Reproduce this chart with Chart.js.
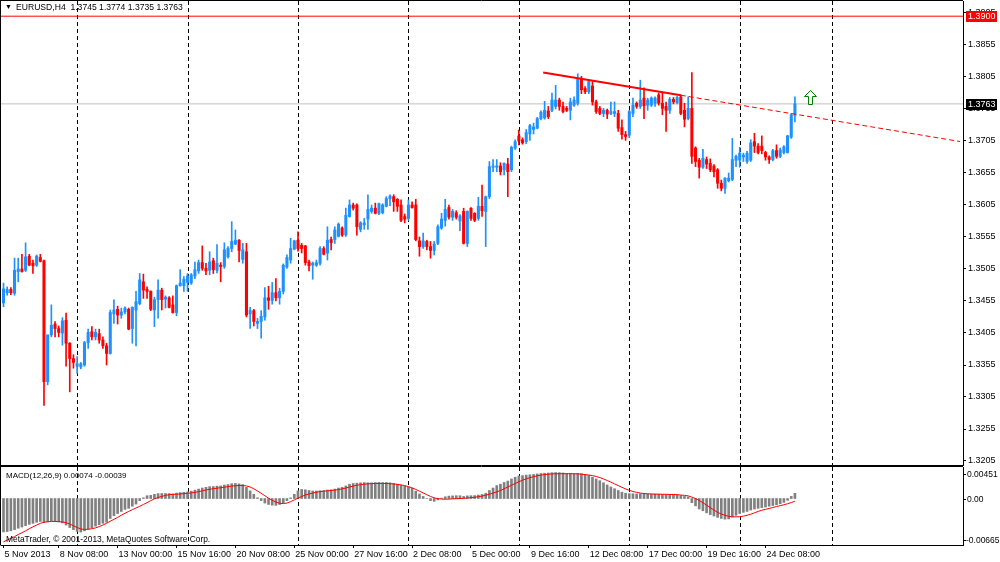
<!DOCTYPE html>
<html>
<head>
<meta charset="utf-8">
<title>EURUSD,H4</title>
<script src="https://cdn.jsdelivr.net/npm/chart.js@4.4.1/dist/chart.umd.min.js"></script>
<style>
html,body{margin:0;padding:0;background:#fff;overflow:hidden;}
#wrap{position:relative;width:1000px;height:562px;background:#fff;}
canvas{position:absolute;left:0;display:block;}
#c1{top:0;}
#c2{top:466px;}
.t{position:absolute;font-family:"Liberation Sans",Arial,sans-serif;color:#000;white-space:pre;line-height:1;}
</style>
</head>
<body>
<div id="wrap">
  <canvas id="c1" width="1000" height="466" style="width:1000px;height:466px"></canvas>
  <canvas id="c2" width="1000" height="96" style="width:1000px;height:96px"></canvas>
  <div class="t" style="left:5px;top:3px;font-size:7px;">▼</div>
  <div class="t" id="hdr" style="left:16px;top:2.5px;font-size:8.6px;"></div>
  <div class="t" id="macdLbl" style="left:6px;top:471.5px;font-size:8px;"></div>
  <div class="t" style="left:6px;top:534.5px;font-size:8.4px;">MetaTrader, © 2001-2013, MetaQuotes Software Corp.</div>
</div>
<script>
// ---------------- DATA ----------------
const symbolName = "EURUSD,H4";
const opens = [
1.3452,1.3468,1.3473,1.3467,1.3501,1.3505,1.3503,1.3525,1.3514,1.3511,
1.3523,1.3518,1.3329,1.3402,1.3419,1.3412,1.3405,1.3425,1.3389,1.3365,
1.3353,1.3352,1.3355,1.3390,1.3407,1.3399,1.3404,1.3394,1.3385,1.3373,
1.3435,1.3442,1.3433,1.3438,1.3442,1.3412,1.3441,1.3451,1.3485,1.3473,
1.3470,1.3441,1.3457,1.3472,1.3458,1.3460,1.3449,1.3437,1.3479,1.3479,
1.3484,1.3483,1.3494,1.3502,1.3515,1.3506,1.3503,1.3518,1.3503,1.3511,
1.3509,1.3524,1.3537,1.3544,1.3550,1.3520,1.3532,1.3435,1.3440,1.3420,
1.3423,1.3430,1.3460,1.3456,1.3468,1.3460,1.3470,1.3508,1.3519,1.3536,
1.3550,1.3542,1.3541,1.3516,1.3511,1.3511,1.3514,1.3537,1.3530,1.3551,
1.3551,1.3556,1.3569,1.3558,1.3587,1.3605,1.3605,1.3567,1.3574,1.3583,
1.3595,1.3600,1.3592,1.3593,1.3603,1.3615,1.3618,1.3614,1.3605,1.3587,
1.3584,1.3605,1.3605,1.3549,1.3540,1.3548,1.3540,1.3534,1.3545,1.3569,
1.3581,1.3601,1.3586,1.3593,1.3580,1.3595,1.3545,1.3600,1.3592,1.3584,
1.3603,1.3595,1.3618,1.3664,1.3664,1.3666,1.3660,1.3669,1.3660,1.3694,
1.3713,1.3707,1.3704,1.3716,1.3723,1.3725,1.3740,1.3741,1.3752,1.3753,
1.3759,1.3769,1.3759,1.3756,1.3753,1.3761,1.3764,1.3803,1.3787,1.3782,
1.3791,1.3766,1.3756,1.3748,1.3753,1.3748,1.3748,1.3748,1.3726,1.3715,
1.3714,1.3748,1.3764,1.3759,1.3772,1.3761,1.3761,1.3764,1.3777,1.3764,
1.3759,1.3753,1.3770,1.3765,1.3774,1.3753,1.3740,1.3756,1.3694,1.3675,
1.3664,1.3676,1.3670,1.3666,1.3660,1.3639,1.3631,1.3643,1.3645,1.3675,
1.3675,1.3680,1.3673,1.3675,1.3704,1.3697,1.3697,1.3687,1.3680,1.3676,
1.3690,1.3681,1.3687,1.3687,1.3711,1.3745];
const highs = [
1.3483,1.3477,1.3476,1.3522,1.3522,1.3528,1.3546,1.3528,1.3519,1.3527,
1.3528,1.3519,1.3402,1.3449,1.3423,1.3416,1.3429,1.3436,1.3390,1.3371,
1.3368,1.3359,1.3392,1.3411,1.3415,1.3411,1.3411,1.3399,1.3389,1.3441,
1.3457,1.3447,1.3444,1.3446,1.3444,1.3446,1.3470,1.3498,1.3497,1.3477,
1.3471,1.3461,1.3488,1.3475,1.3463,1.3462,1.3463,1.3480,1.3504,1.3493,
1.3498,1.3498,1.3516,1.3519,1.3541,1.3514,1.3532,1.3522,1.3543,1.3515,
1.3546,1.3540,1.3579,1.3566,1.3551,1.3545,1.3545,1.3445,1.3442,1.3428,
1.3440,1.3476,1.3478,1.3484,1.3490,1.3475,1.3513,1.3527,1.3553,1.3550,
1.3563,1.3545,1.3542,1.3519,1.3516,1.3519,1.3540,1.3540,1.3571,1.3555,
1.3571,1.3577,1.3571,1.3600,1.3613,1.3608,1.3607,1.3579,1.3584,1.3621,
1.3605,1.3608,1.3608,1.3607,1.3618,1.3621,1.3621,1.3615,1.3613,1.3591,
1.3613,1.3610,1.3614,1.3555,1.3561,1.3550,1.3548,1.3548,1.3574,1.3592,
1.3614,1.3605,1.3598,1.3596,1.3590,1.3600,1.3596,1.3601,1.3593,1.3617,
1.3636,1.3619,1.3673,1.3676,1.3676,1.3671,1.3671,1.3678,1.3697,1.3707,
1.3722,1.3710,1.3723,1.3731,1.3733,1.3742,1.3752,1.3767,1.3759,1.3780,
1.3792,1.3772,1.3766,1.3759,1.3772,1.3774,1.3810,1.3806,1.3790,1.3800,
1.3798,1.3769,1.3759,1.3756,1.3755,1.3766,1.3766,1.3753,1.3738,1.3720,
1.3753,1.3772,1.3766,1.3800,1.3788,1.3772,1.3774,1.3774,1.3780,1.3780,
1.3766,1.3773,1.3773,1.3775,1.3777,1.3764,1.3774,1.3812,1.3696,1.3678,
1.3692,1.3680,1.3677,1.3668,1.3662,1.3644,1.3648,1.3655,1.3709,1.3683,
1.3695,1.3686,1.3689,1.3707,1.3717,1.3701,1.3713,1.3689,1.3682,1.3692,
1.3699,1.3694,1.3698,1.3714,1.3748,1.3774];
const lows = [
1.3446,1.3464,1.3465,1.3464,1.3485,1.3500,1.3501,1.3510,1.3498,1.3509,
1.3516,1.3292,1.3324,1.3399,1.3399,1.3399,1.3386,1.3353,1.3313,1.3350,
1.3342,1.3349,1.3353,1.3381,1.3394,1.3394,1.3389,1.3381,1.3355,1.3372,
1.3420,1.3419,1.3428,1.3435,1.3410,1.3389,1.3385,1.3449,1.3459,1.3459,
1.3440,1.3415,1.3428,1.3441,1.3444,1.3444,1.3436,1.3432,1.3478,1.3470,
1.3470,1.3481,1.3490,1.3498,1.3503,1.3496,1.3496,1.3498,1.3499,1.3485,
1.3506,1.3522,1.3532,1.3543,1.3516,1.3514,1.3430,1.3412,1.3416,1.3412,
1.3397,1.3425,1.3442,1.3450,1.3455,1.3450,1.3466,1.3506,1.3514,1.3535,
1.3533,1.3530,1.3511,1.3502,1.3489,1.3509,1.3511,1.3527,1.3519,1.3535,
1.3545,1.3555,1.3556,1.3556,1.3586,1.3597,1.3558,1.3563,1.3567,1.3567,
1.3592,1.3591,1.3590,1.3591,1.3602,1.3604,1.3595,1.3595,1.3579,1.3577,
1.3581,1.3600,1.3549,1.3525,1.3537,1.3535,1.3522,1.3527,1.3543,1.3567,
1.3572,1.3583,1.3581,1.3583,1.3565,1.3544,1.3540,1.3581,1.3579,1.3581,
1.3587,1.3540,1.3615,1.3657,1.3657,1.3652,1.3652,1.3618,1.3657,1.3692,
1.3699,1.3700,1.3701,1.3706,1.3716,1.3724,1.3738,1.3739,1.3740,1.3751,
1.3755,1.3753,1.3749,1.3751,1.3738,1.3759,1.3761,1.3779,1.3779,1.3779,
1.3761,1.3748,1.3746,1.3743,1.3740,1.3746,1.3743,1.3720,1.3708,1.3706,
1.3710,1.3743,1.3756,1.3756,1.3740,1.3753,1.3759,1.3759,1.3761,1.3746,
1.3720,1.3748,1.3763,1.3763,1.3746,1.3727,1.3738,1.3670,1.3665,1.3647,
1.3662,1.3662,1.3657,1.3649,1.3631,1.3627,1.3623,1.3641,1.3643,1.3665,
1.3664,1.3673,1.3670,1.3673,1.3687,1.3685,1.3685,1.3675,1.3670,1.3674,
1.3678,1.3679,1.3685,1.3686,1.3709,1.3735];
const closes = [
1.3474,1.3473,1.3468,1.3503,1.3505,1.3501,1.3524,1.3511,1.3510,1.3525,
1.3517,1.3329,1.3402,1.3417,1.3412,1.3406,1.3424,1.3389,1.3365,1.3359,
1.3357,1.3357,1.3390,1.3406,1.3399,1.3406,1.3394,1.3385,1.3373,1.3437,
1.3441,1.3433,1.3438,1.3444,1.3411,1.3445,1.3454,1.3488,1.3472,1.3470,
1.3442,1.3457,1.3472,1.3457,1.3461,1.3445,1.3437,1.3479,1.3483,1.3489,
1.3494,1.3496,1.3504,1.3515,1.3506,1.3502,1.3516,1.3504,1.3514,1.3509,
1.3535,1.3537,1.3548,1.3550,1.3534,1.3535,1.3433,1.3440,1.3423,1.3423,
1.3431,1.3460,1.3456,1.3468,1.3460,1.3470,1.3511,1.3523,1.3537,1.3549,
1.3537,1.3537,1.3515,1.3510,1.3514,1.3515,1.3537,1.3528,1.3550,1.3546,
1.3566,1.3575,1.3558,1.3589,1.3605,1.3600,1.3571,1.3577,1.3577,1.3598,
1.3600,1.3592,1.3607,1.3605,1.3615,1.3619,1.3610,1.3603,1.3581,1.3583,
1.3605,1.3601,1.3551,1.3540,1.3549,1.3540,1.3534,1.3544,1.3571,1.3583,
1.3598,1.3586,1.3595,1.3586,1.3588,1.3545,1.3595,1.3584,1.3581,1.3603,
1.3596,1.3618,1.3665,1.3666,1.3666,1.3657,1.3670,1.3657,1.3695,1.3704,
1.3705,1.3702,1.3718,1.3729,1.3727,1.3740,1.3750,1.3753,1.3743,1.3769,
1.3769,1.3759,1.3751,1.3753,1.3766,1.3769,1.3803,1.3785,1.3782,1.3798,
1.3766,1.3751,1.3748,1.3753,1.3747,1.3751,1.3751,1.3725,1.3715,1.3712,
1.3751,1.3761,1.3759,1.3769,1.3760,1.3769,1.3772,1.3772,1.3764,1.3756,
1.3753,1.3770,1.3766,1.3773,1.3748,1.3739,1.3756,1.3681,1.3673,1.3664,
1.3678,1.3669,1.3660,1.3657,1.3639,1.3631,1.3647,1.3647,1.3676,1.3681,
1.3686,1.3683,1.3686,1.3702,1.3697,1.3687,1.3690,1.3680,1.3676,1.3690,
1.3681,1.3691,1.3696,1.3713,1.3746,1.3763];
const macdMain = [
-0.00478,-0.00472,-0.00462,-0.00445,-0.00425,-0.00408,-0.00388,-0.00370,-0.00355,-0.00340,
-0.00328,-0.00345,-0.00335,-0.00320,-0.00322,-0.00335,-0.00350,-0.00380,-0.00415,-0.00445,
-0.00470,-0.00480,-0.00462,-0.00440,-0.00418,-0.00395,-0.00375,-0.00355,-0.00340,-0.00285,
-0.00245,-0.00215,-0.00185,-0.00155,-0.00140,-0.00110,-0.00080,-0.00030,0.00010,0.00040,
0.00045,0.00060,0.00070,0.00072,0.00072,0.00070,0.00065,0.00078,0.00085,0.00090,
0.00095,0.00105,0.00120,0.00135,0.00150,0.00160,0.00170,0.00172,0.00178,0.00180,
0.00192,0.00200,0.00212,0.00215,0.00210,0.00200,0.00160,0.00110,0.00060,0.00010,
-0.00030,-0.00065,-0.00085,-0.00095,-0.00098,-0.00085,-0.00060,-0.00030,0.00010,0.00060,
0.00110,0.00130,0.00125,0.00115,0.00108,0.00108,0.00112,0.00115,0.00122,0.00125,
0.00135,0.00150,0.00160,0.00180,0.00205,0.00215,0.00220,0.00225,0.00228,0.00225,
0.00225,0.00228,0.00230,0.00228,0.00230,0.00225,0.00218,0.00205,0.00190,0.00178,
0.00165,0.00150,0.00105,0.00065,0.00030,0.00000,-0.00030,-0.00040,-0.00020,0.00005,
0.00025,0.00035,0.00038,0.00040,0.00040,0.00030,0.00038,0.00040,0.00042,0.00050,
0.00058,0.00075,0.00115,0.00150,0.00185,0.00205,0.00230,0.00250,0.00280,0.00305,
0.00322,0.00328,0.00335,0.00340,0.00345,0.00352,0.00358,0.00362,0.00365,0.00370,
0.00372,0.00370,0.00366,0.00360,0.00358,0.00355,0.00360,0.00355,0.00340,0.00330,
0.00305,0.00280,0.00255,0.00225,0.00195,0.00165,0.00140,0.00115,0.00090,0.00075,
0.00070,0.00068,0.00065,0.00068,0.00062,0.00062,0.00062,0.00063,0.00062,0.00058,
0.00055,0.00055,0.00055,0.00052,0.00042,0.00030,0.00022,-0.00060,-0.00105,-0.00150,
-0.00175,-0.00205,-0.00230,-0.00250,-0.00270,-0.00285,-0.00295,-0.00292,-0.00265,-0.00240,
-0.00215,-0.00198,-0.00185,-0.00165,-0.00150,-0.00140,-0.00130,-0.00122,-0.00110,-0.00100,
-0.00090,-0.00075,-0.00055,-0.00025,0.00030,0.00074];
const macdSignal = [
-0.00620,-0.00595,-0.00570,-0.00545,-0.00515,-0.00490,-0.00462,-0.00432,-0.00405,-0.00380,
-0.00355,-0.00340,-0.00332,-0.00328,-0.00328,-0.00330,-0.00335,-0.00345,-0.00365,-0.00390,
-0.00415,-0.00435,-0.00442,-0.00440,-0.00432,-0.00420,-0.00402,-0.00380,-0.00355,-0.00325,
-0.00298,-0.00270,-0.00240,-0.00212,-0.00185,-0.00160,-0.00135,-0.00112,-0.00085,-0.00060,
-0.00030,-0.00005,0.00015,0.00030,0.00045,0.00055,0.00060,0.00062,0.00065,0.00070,
0.00075,0.00080,0.00088,0.00098,0.00110,0.00122,0.00132,0.00140,0.00148,0.00155,
0.00162,0.00170,0.00178,0.00183,0.00186,0.00186,0.00180,0.00165,0.00140,0.00108,
0.00075,0.00040,0.00005,-0.00025,-0.00050,-0.00068,-0.00072,-0.00065,-0.00045,-0.00020,
0.00005,0.00030,0.00050,0.00065,0.00078,0.00090,0.00098,0.00105,0.00110,0.00115,
0.00120,0.00128,0.00138,0.00150,0.00165,0.00178,0.00190,0.00198,0.00205,0.00210,
0.00213,0.00215,0.00216,0.00216,0.00215,0.00212,0.00208,0.00202,0.00195,0.00185,
0.00170,0.00152,0.00130,0.00105,0.00080,0.00055,0.00030,0.00010,-0.00002,-0.00008,
-0.00010,-0.00008,-0.00005,-0.00002,0.00000,0.00003,0.00008,0.00012,0.00018,0.00025,
0.00035,0.00048,0.00062,0.00078,0.00095,0.00115,0.00140,0.00165,0.00190,0.00215,
0.00240,0.00262,0.00282,0.00298,0.00312,0.00325,0.00335,0.00342,0.00348,0.00352,
0.00354,0.00355,0.00355,0.00355,0.00355,0.00354,0.00352,0.00348,0.00343,0.00336,
0.00328,0.00316,0.00300,0.00280,0.00258,0.00235,0.00210,0.00185,0.00160,0.00138,
0.00118,0.00100,0.00088,0.00078,0.00072,0.00068,0.00065,0.00063,0.00062,0.00061,
0.00060,0.00058,0.00057,0.00055,0.00050,0.00045,0.00038,0.00020,0.00000,-0.00028,
-0.00060,-0.00095,-0.00130,-0.00165,-0.00198,-0.00222,-0.00240,-0.00255,-0.00262,-0.00262,
-0.00260,-0.00252,-0.00240,-0.00225,-0.00205,-0.00185,-0.00168,-0.00155,-0.00142,-0.00128,
-0.00115,-0.00102,-0.00090,-0.00075,-0.00058,-0.00039];
const timeTickIdx = [0,15,31,47,63,79,95,111,127,143,159,175,191,207];
const timeTickLabels = ["5 Nov 2013","8 Nov 08:00","13 Nov 00:00","15 Nov 16:00","20 Nov 08:00","25 Nov 00:00","27 Nov 16:00","2 Dec 08:00","5 Dec 00:00","9 Dec 16:00","12 Dec 08:00","17 Dec 00:00","19 Dec 16:00","24 Dec 08:00"];
const priceTicks = [1.3205,1.3255,1.3305,1.3355,1.3405,1.3455,1.3505,1.3555,1.3605,1.3655,1.3705,1.3755,1.3805,1.3855,1.3905];
const macdScaleLabels = [0.00451, 0.00, -0.00665];
const alertLevel = 1.3900;
const trendX = [146.6, 184, 259.85];
const trendY = [1.38120, 1.37765, 1.37042];
const arrowX = 219.23, arrowY = 1.37730;
const gridAt = [20, 50, 80, 110, 140, 170, 200, 225];

// ---------------- CONFIG ----------------
const xMin = -0.679, xMax = 260.66;
const yMin = 1.319875, yMax = 1.392375;
const macdMin = -0.00665, macdMax = 0.00451;
const FONT = '"Liberation Sans", Arial, sans-serif';
const UP = '#1e90ff', DOWN = '#ff0000';

const last = closes.length - 1;
const bidLevel = closes[last];
document.getElementById('hdr').textContent =
  symbolName + '  ' + [opens[last], highs[last], lows[last], closes[last]].map(v => v.toFixed(4)).join(' ');
document.getElementById('macdLbl').textContent =
  'MACD(12,26,9) ' + macdMain[last].toFixed(5) + ' ' + macdSignal[last].toFixed(5);

Chart.defaults.font.family = FONT;
Chart.defaults.font.size = 9;
Chart.defaults.color = '#000';
Chart.defaults.animation = false;

const colors = closes.map((c, i) => c >= opens[i] ? UP : DOWN);
const bodyData = closes.map((c, i) => ({x: i, y: [opens[i], c]}));
const wickData = closes.map((c, i) => ({x: i, y: [lows[i], highs[i]]}));
const histData = macdMain.map((v, i) => ({x: i, y: v}));
const sigData = macdSignal.map((v, i) => ({x: i, y: v}));

function makeArrow() {
  const c = document.createElement('canvas');
  c.width = 13; c.height = 15;
  const g = c.getContext('2d');
  g.beginPath();
  g.moveTo(6.5, 0.5); g.lineTo(12.5, 6.5); g.lineTo(8.5, 6.5); g.lineTo(8.5, 14.5);
  g.lineTo(4.5, 14.5); g.lineTo(4.5, 6.5); g.lineTo(0.5, 6.5); g.closePath();
  g.fillStyle = '#fff'; g.fill();
  g.strokeStyle = '#008000'; g.lineWidth = 1; g.stroke();
  return c;
}

const vGrid = {
  id: 'vGrid',
  beforeDatasetsDraw(chart) {
    const {ctx, chartArea: a, scales: {x}} = chart;
    ctx.save();
    ctx.beginPath(); ctx.rect(a.left, a.top, a.right - a.left, a.bottom - a.top); ctx.clip();
    ctx.strokeStyle = '#000'; ctx.lineWidth = 1; ctx.setLineDash([4, 3]);
    gridAt.forEach(v => {
      const px = Math.round(x.getPixelForValue(v)) + 0.5;
      ctx.beginPath(); ctx.moveTo(px, a.top); ctx.lineTo(px, a.bottom); ctx.stroke();
    });
    ctx.restore();
  }
};

const frame = {
  id: 'frame',
  afterDraw(chart, args, opts) {
    const {ctx, chartArea: a} = chart;
    ctx.save(); ctx.strokeStyle = '#000'; ctx.lineWidth = 1; ctx.setLineDash([]);
    ctx.beginPath();
    ctx.moveTo(0, a.top - 0.5); ctx.lineTo(a.right, a.top - 0.5);
    ctx.moveTo(0.5, a.top - 0.5); ctx.lineTo(0.5, a.bottom + 0.5);
    if (opts && opts.bottom) { ctx.moveTo(0, a.bottom + 0.5); ctx.lineTo(a.right, a.bottom + 0.5); }
    ctx.stroke(); ctx.restore();
  }
};

const priceBoxes = {
  id: 'priceBoxes',
  afterDraw(chart) {
    const {ctx, scales: {y}, chartArea: a} = chart;
    ctx.save();
    ctx.font = '9px ' + FONT; ctx.textBaseline = 'middle'; ctx.textAlign = 'left';
    [[alertLevel, '#ff0000'], [bidLevel, '#000000']].forEach(([v, bg]) => {
      const py = Math.round(y.getPixelForValue(v));
      ctx.fillStyle = bg; ctx.fillRect(a.right + 3, py - 5, 31, 11);
      ctx.fillStyle = '#fff'; ctx.fillText(v.toFixed(4), a.right + 5, py + 0.5);
    });
    ctx.restore();
  }
};

const macdAxisLabels = {
  id: 'macdAxisLabels',
  afterDraw(chart) {
    const {ctx, scales: {y}, chartArea: a} = chart;
    ctx.save();
    ctx.font = '8.5px ' + FONT; ctx.textBaseline = 'middle'; ctx.textAlign = 'left'; ctx.fillStyle = '#000';
    ctx.strokeStyle = '#000'; ctx.lineWidth = 1;
    const ys = [a.top + 7, y.getPixelForValue(0), a.bottom - 5];
    macdScaleLabels.forEach((v, k) => {
      const py = Math.round(ys[k]);
      const txt = v === 0 ? '0.00' : v.toFixed(5);
      ctx.fillText(txt, a.right + (v < 0 ? 3 : 4), py + 0.5);
      ctx.beginPath(); ctx.moveTo(a.right, py + 0.5); ctx.lineTo(a.right + 3, py + 0.5); ctx.stroke();
    });
    ctx.restore();
  }
};

// ---------------- MAIN PRICE CHART ----------------
new Chart(document.getElementById('c1'), {
  type: 'bar',
  data: {
    datasets: [
      {type: 'line', data: [{x: xMin, y: alertLevel}, {x: xMax, y: alertLevel}], borderColor: '#ff0000', borderWidth: 1, pointRadius: 0, order: 10},
      {type: 'line', data: [{x: xMin, y: bidLevel}, {x: xMax, y: bidLevel}], borderColor: '#c0c0c0', borderWidth: 1, pointRadius: 0, order: 9},
      {type: 'bar', data: wickData, backgroundColor: colors, barThickness: 1, grouped: false, minBarLength: 1, order: 6},
      {type: 'bar', data: bodyData, backgroundColor: colors, barThickness: 2.4, grouped: false, minBarLength: 1, order: 5},
      {type: 'line', data: [{x: trendX[0], y: trendY[0]}, {x: trendX[1], y: trendY[1]}], borderColor: '#ff0000', borderWidth: 2, pointRadius: 0, order: 2},
      {type: 'line', data: [{x: trendX[1], y: trendY[1]}, {x: trendX[2], y: trendY[2]}], borderColor: '#ff0000', borderWidth: 1, borderDash: [5, 3], pointRadius: 0, order: 2},
      {type: 'line', data: [{x: arrowX, y: arrowY}], showLine: false, pointStyle: makeArrow(), pointRadius: 7, order: 1}
    ]
  },
  options: {
    responsive: false, animation: false, events: [],
    layout: {autoPadding: false, padding: {left: 1, top: 1, right: 0, bottom: 1}},
    plugins: {legend: {display: false}, tooltip: {enabled: false}, frame: {bottom: true}},
    scales: {
      x: {type: 'linear', min: xMin, max: xMax, display: false, offset: false, grid: {offset: false}},
      y: {
        type: 'linear', position: 'right', min: yMin, max: yMax,
        afterBuildTicks: s => { s.ticks = priceTicks.map(v => ({value: v})); },
        afterFit: s => { s.width = 37; s.paddingTop = 0; s.paddingBottom = 0; },
        ticks: {callback: v => Number(v).toFixed(4), padding: 2, autoSkip: false, color: '#000', font: {size: 9}},
        grid: {drawOnChartArea: false, drawTicks: true, tickLength: 3, tickColor: '#000', color: '#000'},
        border: {display: true, color: '#000', width: 1}
      }
    }
  },
  plugins: [vGrid, frame, priceBoxes]
});

// ---------------- MACD CHART ----------------
new Chart(document.getElementById('c2'), {
  type: 'bar',
  data: {
    datasets: [
      {type: 'bar', data: histData, backgroundColor: '#808080', barThickness: 2, order: 1},
      {type: 'line', data: sigData, borderColor: '#ff0000', borderWidth: 1, pointRadius: 0, tension: 0, order: 0}
    ]
  },
  options: {
    responsive: false, animation: false, events: [],
    layout: {autoPadding: false, padding: {left: 1, top: 1, right: 0, bottom: 1}},
    plugins: {legend: {display: false}, tooltip: {enabled: false}, frame: {bottom: false}},
    scales: {
      x: {
        type: 'linear', position: 'bottom', min: xMin, max: xMax, offset: false,
        afterBuildTicks: s => { s.ticks = timeTickIdx.map(v => ({value: v})); },
        afterFit: s => { s.height = 16; s.paddingLeft = 0; s.paddingRight = 0; },
        ticks: {autoSkip: false, maxRotation: 0, minRotation: 0, align: 'start', padding: 1, labelOffset: 1,
                callback: (v, i) => timeTickLabels[i], color: '#000', font: {size: 9}},
        grid: {offset: false, drawOnChartArea: false, drawTicks: true, tickLength: 3, tickColor: '#000', color: '#000'},
        border: {display: true, color: '#000', width: 1}
      },
      y: {
        type: 'linear', position: 'right', min: macdMin, max: macdMax,
        afterFit: s => { s.width = 37; s.paddingTop = 0; s.paddingBottom = 0; },
        ticks: {display: false}, grid: {display: false},
        border: {display: true, color: '#000', width: 1}
      }
    }
  },
  plugins: [vGrid, frame, macdAxisLabels]
});
</script>
</body>
</html>
